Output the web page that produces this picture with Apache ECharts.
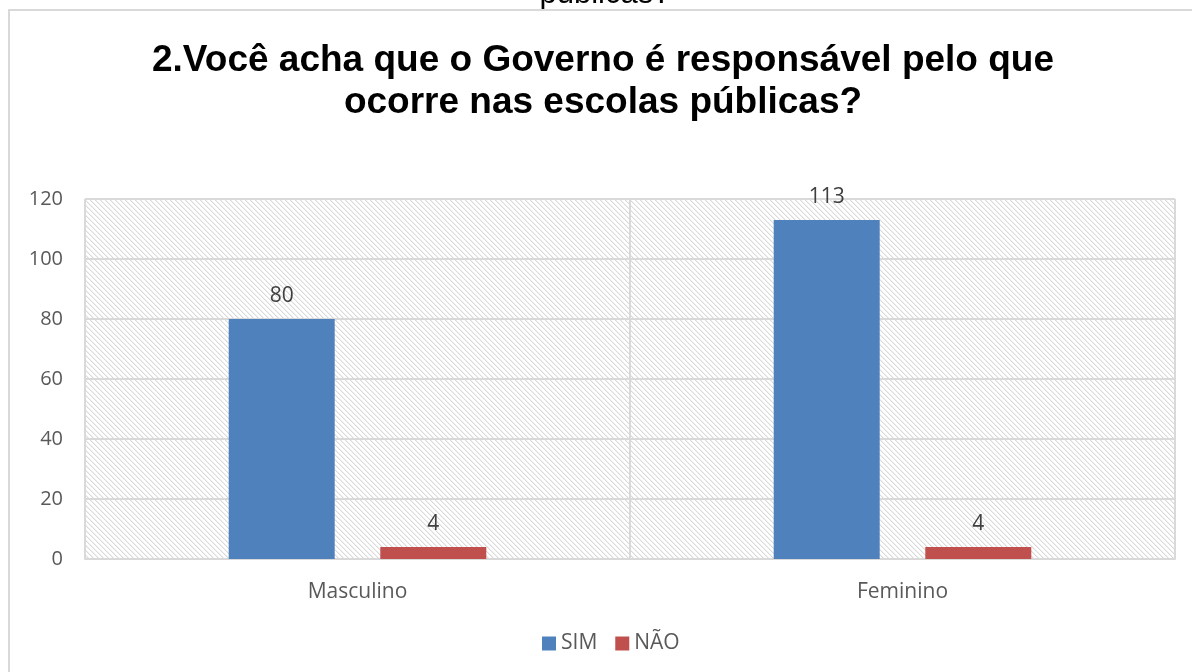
<!DOCTYPE html>
<html>
<head>
<meta charset="utf-8">
<script src="https://cdn.jsdelivr.net/npm/echarts@6/dist/echarts.min.js"></script>
<style>html,body{margin:0;padding:0;background:#fff;}#c{width:1192px;height:672px;}</style>
</head>
<body>
<div id="c"></div>
<script>
var titleText = '2.Você acha que o Governo é responsável pelo que\nocorre nas escolas públicas?';
var cutText = 'públicas?';
var categories = ['Masculino', 'Feminino'];
var simValues = [80, 113];
var naoValues = [4, 4];
var seriesNames = ['SIM', 'NÃO'];

function makeHatch() {
  var n = 5;
  var cv = document.createElement('canvas');
  cv.width = n; cv.height = n;
  var ctx = cv.getContext('2d');
  ctx.fillStyle = '#ffffff';
  ctx.fillRect(0, 0, n, n);
  for (var y = 0; y < n; y++) {
    for (var x = 0; x < n; x++) {
      var d = ((x - y) % n + n) % n;
      if (d === 0) { ctx.fillStyle = '#dadada'; ctx.fillRect(x, y, 1, 1); }
      else if (d === 1) { ctx.fillStyle = '#efefef'; ctx.fillRect(x, y, 1, 1); }
    }
  }
  return cv;
}

var chart = echarts.init(document.getElementById('c'), null, {renderer: 'canvas'});
var font = '"Open Sans", "Noto Sans", sans-serif';
chart.setOption({
  backgroundColor: '#ffffff',
  animation: false,
  title: {
    text: titleText,
    left: 598,
    top: 35,
    textAlign: 'center',
    textStyle: {
      fontFamily: '"Liberation Sans", Arial, sans-serif',
      fontSize: 37,
      fontWeight: 'bold',
      color: '#000000',
      lineHeight: 42,
      align: 'center'
    }
  },
  graphic: [
    {type: 'text', x: 605, y: -21, z: -2,
     style: {text: cutText, font: '31px "Liberation Sans", Arial, sans-serif', fill: '#000000', textAlign: 'center'}},
    {type: 'rect', shape: {x: 9, y: 10, width: 1200, height: 700}, z: -1,
     style: {fill: '#ffffff', stroke: '#d9d9d9', lineWidth: 2}}
  ],
  legend: {
    bottom: 13,
    left: 537,
    itemWidth: 14,
    itemHeight: 14,
    itemGap: 18,
    icon: 'rect',
    textStyle: {fontFamily: font, fontSize: 21, color: '#595959'},
    data: seriesNames
  },
  grid: {
    left: 85, right: 17, top: 199, bottom: 113,
    show: true,
    borderWidth: 0,
    backgroundColor: {image: makeHatch(), repeat: 'repeat'}
  },
  xAxis: {
    type: 'category',
    data: categories,
    axisLine: {show: true, lineStyle: {color: '#d9d9d9', width: 2}},
    axisTick: {show: false},
    splitLine: {show: true, lineStyle: {color: '#d9d9d9', width: 2}},
    axisLabel: {fontFamily: font, fontSize: 21, color: '#595959', margin: 23}
  },
  yAxis: {
    type: 'value',
    min: 0, max: 120, interval: 20,
    axisLine: {show: false},
    axisTick: {show: false},
    splitLine: {show: true, lineStyle: {color: '#d9d9d9', width: 2}},
    axisLabel: {fontFamily: font, fontSize: 20, color: '#595959', margin: 22}
  },
  series: [
    {name: seriesNames[0], type: 'bar', data: simValues, barWidth: 106, barGap: '43%',
     itemStyle: {color: '#4f81bd'},
     label: {show: true, position: 'top', distance: 12, fontFamily: font, fontSize: 21, color: '#404040'}},
    {name: seriesNames[1], type: 'bar', data: naoValues, barWidth: 106,
     itemStyle: {color: '#c0504d'},
     label: {show: true, position: 'top', distance: 12, fontFamily: font, fontSize: 21, color: '#404040'}}
  ]
});
</script>
</body>
</html>
